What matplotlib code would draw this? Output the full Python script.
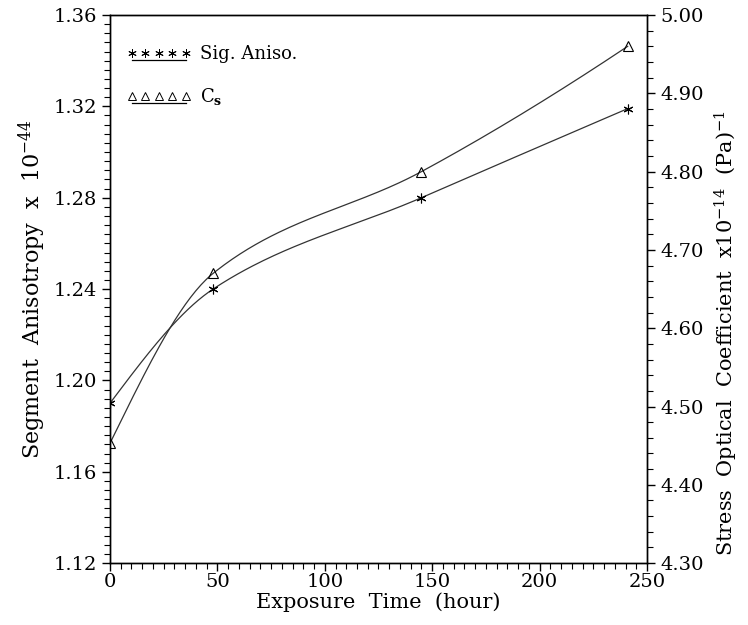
import numpy as np
import matplotlib
matplotlib.use("Agg")
import matplotlib.pyplot as plt
from matplotlib.ticker import MultipleLocator, FormatStrFormatter
from matplotlib.legend_handler import HandlerLine2DCompound

# exposure time (hour)
hours = [0, 48, 145, 241]
# segment anisotropy x 1e-44 (left axis)
sig_aniso = [1.190, 1.240, 1.280, 1.319]
# stress optical coefficient x 1e-14 (Pa)^-1 (right axis)
cs = [4.453, 4.670, 4.800, 4.960]

plt.rcParams['font.family'] = 'serif'
plt.rcParams['font.serif'] = ['DejaVu Serif']
plt.rcParams['mathtext.fontset'] = 'dejavuserif'

fig = plt.figure(figsize=(7.48, 6.25), dpi=100)
ax = fig.add_axes([0.147, 0.099, 0.718, 0.877])
ax2 = ax.twinx()


def pchip(x, y, n=200):
    # monotone cubic (Fritsch-Carlson) curve through the measured points
    x = np.asarray(x, float)
    y = np.asarray(y, float)
    h = np.diff(x)
    d = np.diff(y) / h
    m = np.zeros(len(x))
    for i in range(1, len(x) - 1):
        if d[i - 1] * d[i] > 0:
            w1 = 2 * h[i] + h[i - 1]
            w2 = h[i] + 2 * h[i - 1]
            m[i] = (w1 + w2) / (w1 / d[i - 1] + w2 / d[i])
    m[0] = ((2 * h[0] + h[1]) * d[0] - h[0] * d[1]) / (h[0] + h[1])
    m[-1] = ((2 * h[-1] + h[-2]) * d[-1] - h[-1] * d[-2]) / (h[-1] + h[-2])
    xs = np.linspace(x[0], x[-1], n)
    j = np.clip(np.searchsorted(x, xs) - 1, 0, len(x) - 2)
    t = (xs - x[j]) / h[j]
    h00 = 2 * t ** 3 - 3 * t ** 2 + 1
    h10 = t ** 3 - 2 * t ** 2 + t
    h01 = -2 * t ** 3 + 3 * t ** 2
    h11 = t ** 3 - t ** 2
    ys = h00 * y[j] + h10 * h[j] * m[j] + h01 * y[j + 1] + h11 * h[j] * m[j + 1]
    return xs, ys


star = (6, 2, 0)

xs, ys = pchip(hours, sig_aniso)
ax.plot(xs, ys, color='#333333', lw=0.9)
ax.plot(hours, sig_aniso, ls='none', marker=star, ms=7, color='black',
        markeredgewidth=0.8)

xs, ys = pchip(hours, cs)
ax2.plot(xs, ys, color='#333333', lw=0.9)
ax2.plot(hours, cs, ls='none', marker='^', ms=7, mfc='none', mec='black',
         markeredgewidth=0.8)

ax.set_xlim(0, 250)
ax.set_ylim(1.12, 1.36)
ax2.set_ylim(4.30, 5.00)

ax.xaxis.set_major_locator(MultipleLocator(50))
ax.xaxis.set_minor_locator(MultipleLocator(5))
ax.yaxis.set_major_locator(MultipleLocator(0.04))
ax.yaxis.set_minor_locator(MultipleLocator(0.004))
ax.yaxis.set_major_formatter(FormatStrFormatter('%.2f'))
ax2.yaxis.set_major_locator(MultipleLocator(0.10))
ax2.yaxis.set_minor_locator(MultipleLocator(0.02))
ax2.yaxis.set_major_formatter(FormatStrFormatter('%.2f'))

for a in (ax, ax2):
    a.tick_params(which='major', direction='out', length=6, width=1,
                  labelsize=14)
    a.tick_params(which='minor', direction='out', length=4, width=0.8)
    for s in a.spines.values():
        s.set_linewidth(1.0)
ax.tick_params(axis='x', which='major', pad=1)

ax.set_xlabel('Exposure  Time  (hour)', fontsize=15, labelpad=1)
ax.set_ylabel(r'Segment  Anisotropy  x  $10^{-44}$', fontsize=16, labelpad=4)
ax2.set_ylabel(r'Stress  Optical  Coefficient  x$10^{-14}$  (Pa)$^{-1}$',
               fontsize=15)
ax2.yaxis.set_label_coords(1.122, 0.42)


class Underlined(HandlerLine2DCompound):
    # markers in a row with the line drawn just below them
    def create_artists(self, legend, orig_handle, xdescent, ydescent,
                       width, height, fontsize, trans):
        arts = super().create_artists(legend, orig_handle, xdescent, ydescent,
                                      width, height, fontsize, trans)
        line = arts[0]
        line.set_ydata(np.asarray(line.get_ydata()) - 0.55 * height)
        return arts


h1, = ax.plot([], [], marker=star, color='black', lw=0.9, ms=6,
              markeredgewidth=0.7)
h2, = ax.plot([], [], marker='^', color='black', mfc='none', lw=0.9, ms=6,
              markeredgewidth=0.7)
ax.legend([h1, h2], ['Sig. Aniso.', r'C$_\mathbf{s}$'], loc='upper left',
          numpoints=5, handlelength=3.6, frameon=False, fontsize=13,
          bbox_to_anchor=(0.0, 0.975), labelspacing=1.3, handletextpad=0.5,
          handler_map={h1: Underlined(), h2: Underlined()})

fig.savefig('out.png', dpi=100)
